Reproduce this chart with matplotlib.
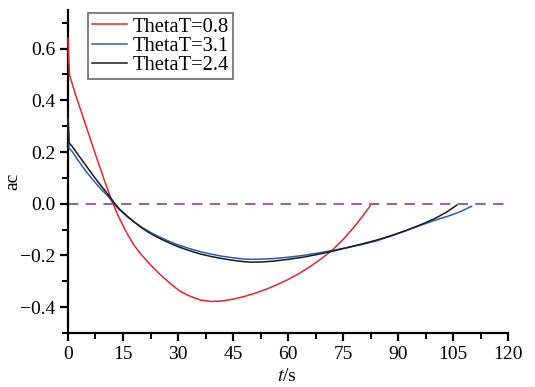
import numpy as np
import matplotlib.pyplot as plt
from matplotlib.ticker import MultipleLocator

plt.rcParams['font.family'] = ['Liberation Serif', 'DejaVu Serif']
plt.rcParams['mathtext.fontset'] = 'stix'

# red curve, ThetaT=0.8
t_red = [0, 0.4, 2, 4, 6, 8, 10, 12, 14, 16, 18, 20, 22.4, 25, 28, 30.5, 33, 36, 39, 42, 45, 48,
         51, 54, 57, 60, 63, 66, 69, 72, 75, 78, 81, 82.4]
ac_red = [0.64, 0.50, 0.425, 0.34, 0.255, 0.17, 0.088, 0.01, -0.056, -0.112, -0.16, -0.197,
          -0.235, -0.272, -0.31, -0.338, -0.356, -0.372, -0.378, -0.376, -0.369, -0.359, -0.346,
          -0.331, -0.313, -0.293, -0.27, -0.243, -0.213, -0.18, -0.138, -0.09, -0.035, -0.008]

# blue curve, ThetaT=3.1
t_blue = [0, 0.3, 1, 3, 5, 7, 9, 11, 12.5, 14, 16, 18, 20, 22, 24, 26, 28, 30, 33, 36, 39, 42,
          45, 48, 50, 53, 56, 60, 64, 68, 72, 76, 80, 84, 88, 92, 96, 100, 104, 107, 110]
ac_blue = [0.33, 0.215, 0.205, 0.163, 0.124, 0.089, 0.057, 0.028, 0.0, -0.022, -0.048, -0.07,
           -0.09, -0.107, -0.122, -0.135, -0.148, -0.159, -0.173, -0.185, -0.195, -0.203, -0.209,
           -0.214, -0.215, -0.214, -0.212, -0.207, -0.2, -0.191, -0.181, -0.17, -0.158, -0.144,
           -0.125, -0.105, -0.084, -0.064, -0.046, -0.03, -0.01]

# black curve, ThetaT=2.4
t_black = [0, 0.3, 1, 3, 5, 7, 9, 11, 12.5, 14, 16, 18, 20, 22, 24, 26, 28, 30, 33, 36, 39, 42,
           45, 48, 50, 53, 56, 60, 64, 68, 72, 76, 80, 84, 88, 92, 96, 100, 103, 106]
ac_black = [0.355, 0.235, 0.225, 0.185, 0.146, 0.107, 0.07, 0.035, 0.006, -0.02, -0.046, -0.07,
            -0.092, -0.111, -0.127, -0.141, -0.154, -0.166, -0.181, -0.194, -0.204, -0.212,
            -0.219, -0.224, -0.226, -0.225, -0.222, -0.215, -0.207, -0.196, -0.184, -0.17,
            -0.156, -0.141, -0.124, -0.104, -0.082, -0.057, -0.034, -0.005]

fig = plt.figure(figsize=(5.35, 3.87), dpi=100)
ax = fig.add_axes([0.127, 0.1395, 0.823, 0.835])

ax.axhline(0, color='#a35ea8', linestyle=(0, (5, 3.5)), linewidth=1.5, zorder=1)
ax.plot(t_red, ac_red, color='#e8262b', linewidth=1.1, label='ThetaT=0.8', clip_on=False, zorder=3)
ax.plot(t_blue, ac_blue, color='#2a5caa', linewidth=1.1, label='ThetaT=3.1', clip_on=False, zorder=3)
ax.plot(t_black, ac_black, color='#1a1a1a', linewidth=1.1, label='ThetaT=2.4', clip_on=False, zorder=3)

ax.set_xlim(0, 120)
ax.set_ylim(-0.5, 0.75)
ax.xaxis.set_major_locator(MultipleLocator(15))
ax.xaxis.set_minor_locator(MultipleLocator(7.5))
ax.yaxis.set_minor_locator(MultipleLocator(0.1))
ax.set_yticks([-0.4, -0.2, 0.0, 0.2, 0.4, 0.6])
ax.set_yticklabels(['\u22120.4', '\u22120.2', '0.0', '0.2', '0.4', '0.6'])

for s in ['top', 'right']:
    ax.spines[s].set_visible(False)
for s in ['left', 'bottom']:
    ax.spines[s].set_linewidth(1.6)
ax.tick_params(which='major', direction='out', length=6, width=1.6, labelsize=14, pad=3)
ax.tick_params(which='minor', direction='out', length=4, width=1.4)

ax.set_xlabel('$t$/s', fontsize=14)
ax.set_ylabel('ac', fontsize=14)
ax.xaxis.set_label_coords(0.498, -0.108)
ax.yaxis.set_label_coords(-0.105, 0.47)

leg = ax.legend(loc='upper left', bbox_to_anchor=(0.045, 0.99), fontsize=14.8, frameon=True,
                fancybox=False, edgecolor='#444444', handlelength=1.7, labelspacing=0.0,
                borderpad=0.2, handletextpad=0.3, borderaxespad=0.0)
leg.get_frame().set_linewidth(1.2)

fig.savefig('out.png', dpi=100)
